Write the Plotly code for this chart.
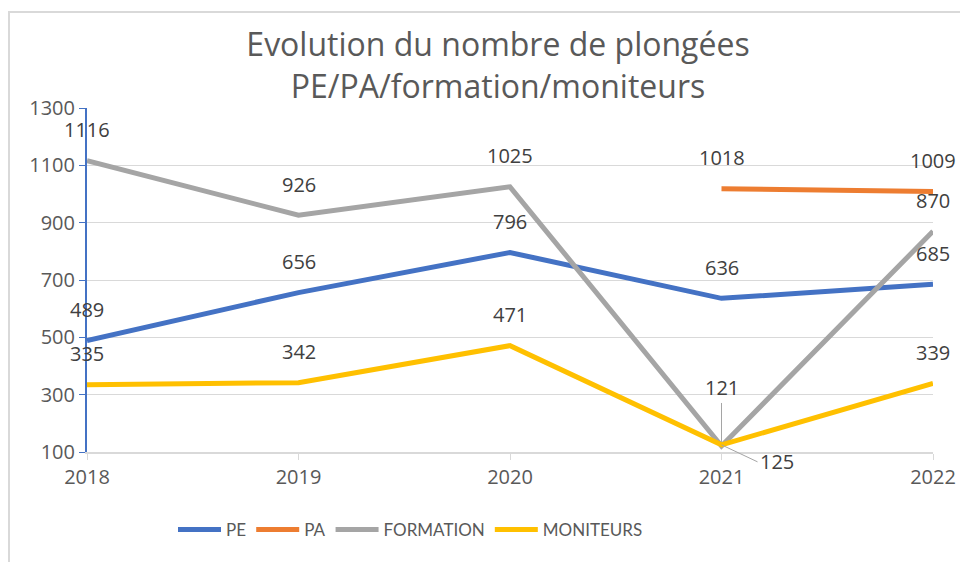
import plotly.graph_objects as go

years = ["2018", "2019", "2020", "2021", "2022"]
pe = [489, 656, 796, 636, 685]
pa = [None, None, None, 1018, 1009]
formation = [1116, 926, 1025, 121, 870]
moniteurs = [335, 342, 471, 125, 339]
y_ticks = [100, 300, 500, 700, 900, 1100, 1300]

NUMFONT = "Open Sans, Roboto, sans-serif"
LEGFONT = "Lato, Roboto, sans-serif"
TXT = "#404040"
GREY = "#595959"

series = [
    ("PE", pe, "#4472C4"),
    ("PA", pa, "#ED7D31"),
    ("FORMATION", formation, "#A5A5A5"),
    ("MONITEURS", moniteurs, "#FFC000"),
]

fig = go.Figure()
for name, vals, col in series:
    fig.add_trace(go.Scatter(x=list(range(len(years))), y=vals, name=name, mode="lines",
                             line=dict(color=col, width=5), connectgaps=False))

annotations = []
for name, vals, col in series:
    for i, v in enumerate(vals):
        if v is None:
            continue
        if name == "FORMATION" and i == 3:
            annotations.append(dict(x=i, y=v, text=str(v), showarrow=True, arrowhead=0,
                                    arrowwidth=1, arrowcolor="#A5A5A5", ax=0, ay=-58,
                                    standoff=4, font=dict(size=20, color=TXT, family=NUMFONT)))
            continue
        if name == "MONITEURS" and i == 3:
            annotations.append(dict(x=i, y=v, text=str(v), showarrow=True, arrowhead=0,
                                    arrowwidth=1, arrowcolor="#A5A5A5", ax=36, ay=17,
                                    xanchor="left", font=dict(size=20, color=TXT, family=NUMFONT)))
            continue
        annotations.append(dict(x=i, y=v, text=str(v), showarrow=False, yshift=31,
                                font=dict(size=20, color=TXT, family=NUMFONT)))

W, H = 960, 554
L, R, T, B = 79, 35, 100, 110
pw = W - L - R
ph = H - T - B
def px(x):
    return (x - L) / pw
def py(y):
    return (H - B - y) / ph

shapes = [
    dict(type="line", xref="paper", yref="paper", x0=px(-3), x1=px(W), y0=py(4), y1=py(4),
         line=dict(color="#D9D9D9", width=2)),
    dict(type="line", xref="paper", yref="paper", x0=px(1), x1=px(1), y0=py(4), y1=py(H),
         line=dict(color="#D9D9D9", width=2)),
]

fig.update_layout(
    width=W, height=H,
    margin=dict(l=L, r=R, t=T, b=B),
    paper_bgcolor="white", plot_bgcolor="white",
    title=dict(text="Evolution du nombre de plongées<br>PE/PA/formation/moniteurs",
               x=490 / W, xref="container", xanchor="center", yref="container",
               y=1 - 48 / H, yanchor="middle",
               font=dict(size=32, color=GREY, family=NUMFONT)),
    font=dict(family=NUMFONT, color=TXT, size=20),
    showlegend=True,
    legend=dict(orientation="h", x=px(165), xanchor="left", y=py(522), yanchor="middle",
                font=dict(size=17, color=GREY, family=LEGFONT), itemwidth=43,
                traceorder="normal"),
    annotations=annotations,
    shapes=shapes,
)
fig.update_xaxes(tickmode="array", tickvals=list(range(len(years))), ticktext=years,
                 range=[0, len(years) - 1], showgrid=False, showline=True,
                 linecolor="#D9D9D9", linewidth=2, ticks="outside", ticklen=6,
                 tickcolor="#D9D9D9", tickfont=dict(size=20, color=GREY, family=NUMFONT),
                 zeroline=False)
fig.update_yaxes(range=[100, 1300], tickvals=y_ticks, showgrid=True, gridcolor="#D9D9D9",
                 gridwidth=1, showline=True, linecolor="#4472C4", linewidth=2,
                 ticks="outside", ticklen=6, tickcolor="#4472C4",
                 tickfont=dict(size=20, color=GREY, family=NUMFONT), zeroline=False)

fig.write_html("out.html")
